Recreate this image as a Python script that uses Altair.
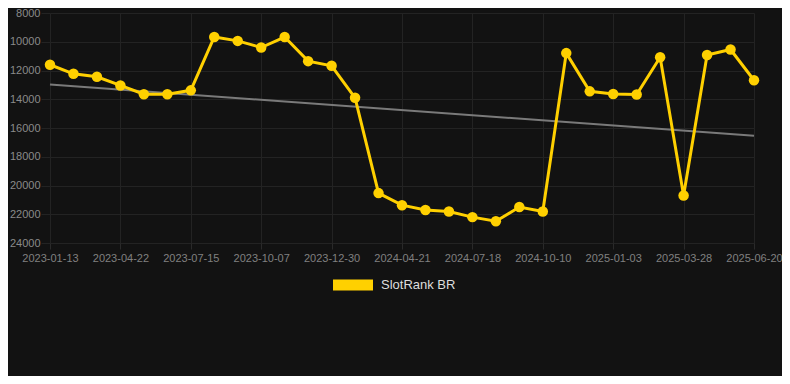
import altair as alt
import pandas as pd

dates = [
    "2023-01-13", "2023-02-15", "2023-03-20", "2023-04-22", "2023-05-20", "2023-06-17",
    "2023-07-15", "2023-08-12", "2023-09-09", "2023-10-07", "2023-11-04", "2023-12-02",
    "2023-12-30", "2024-02-06", "2024-03-14", "2024-04-21", "2024-05-20", "2024-06-19",
    "2024-07-18", "2024-08-15", "2024-09-12", "2024-10-10", "2024-11-07", "2024-12-06",
    "2025-01-03", "2025-01-31", "2025-02-28", "2025-03-28", "2025-04-25", "2025-05-23",
    "2025-06-20",
]
ranks = [
    11600, 12230, 12435, 13040, 13650, 13650, 13380, 9670, 9940, 10400, 9670, 11350,
    11670, 13900, 20530, 21370, 21700, 21810, 22200, 22490, 21500, 21810, 10790, 13450,
    13630, 13670, 11080, 20690, 10920, 10540, 12680,
]
series_name = "SlotRank BR"
y_ticks = [8000, 10000, 12000, 14000, 16000, 18000, 20000, 22000, 24000]
x_tick_idx = list(range(0, len(dates), 3))

df = pd.DataFrame({
    "idx": list(range(len(dates))),
    "date": dates,
    "rank": ranks,
    "series": [series_name] * len(dates),
})

label_expr = "[" + ",".join("'" + d + "'" for d in dates) + "][datum.value]"

x_enc = alt.X(
    "idx:Q",
    scale=alt.Scale(domain=[0, len(dates) - 1], nice=False, zero=False),
    axis=alt.Axis(
        values=x_tick_idx, labelExpr=label_expr, title=None, grid=True,
        gridColor="#232323", tickColor="#2a2a2a", tickSize=6, domain=False,
        labelColor="#808080", labelFontSize=11, labelPadding=3,
        labelFont="Liberation Sans", labelOverlap=False, labelFlush=False,
    ),
)
y_enc = alt.Y(
    "rank:Q",
    scale=alt.Scale(domain=[8000, 24000], reverse=True, nice=False, zero=False),
    axis=alt.Axis(
        values=y_ticks, format="d", title=None, grid=True, gridColor="#232323",
        tickColor="#232323", tickSize=9, domain=False, labelColor="#8a8a8a",
        labelFontSize=11, labelPadding=1, labelFont="Liberation Sans",
        labelOverlap=False,
    ),
)

base = alt.Chart(df)

trend = base.transform_regression("idx", "rank").mark_line(
    color="#7a7a7a", strokeWidth=2
).encode(x=x_enc, y=y_enc)

line = base.mark_line(
    strokeWidth=3,
    point=alt.OverlayMarkDef(filled=True, size=110, color="#FFD000", opacity=1),
).encode(
    x=x_enc,
    y=y_enc,
    color=alt.Color(
        "series:N",
        scale=alt.Scale(domain=[series_name], range=["#FFD000"]),
        legend=alt.Legend(
            title=None, orient="none", legendX=283, legendY=252,
            symbolType="M-1,-0.28L1,-0.28L1,0.28L-1,0.28Z", symbolSize=1600,
            symbolStrokeWidth=0, symbolFillColor="#FFD000",
            labelColor="#dddddd", labelFontSize=13, labelFont="Liberation Sans",
            labelOffset=8,
        ),
    ),
)

chart = alt.layer(trend, line).properties(
    width=704,
    height=230,
    autosize=alt.AutoSizeParams(type="none"),
    padding={"left": 42, "top": 5, "right": 28, "bottom": 133},
    background="#121212",
).configure_view(stroke=None)

chart.save("out.html", embed_options={"renderer": "svg", "actions": False})
